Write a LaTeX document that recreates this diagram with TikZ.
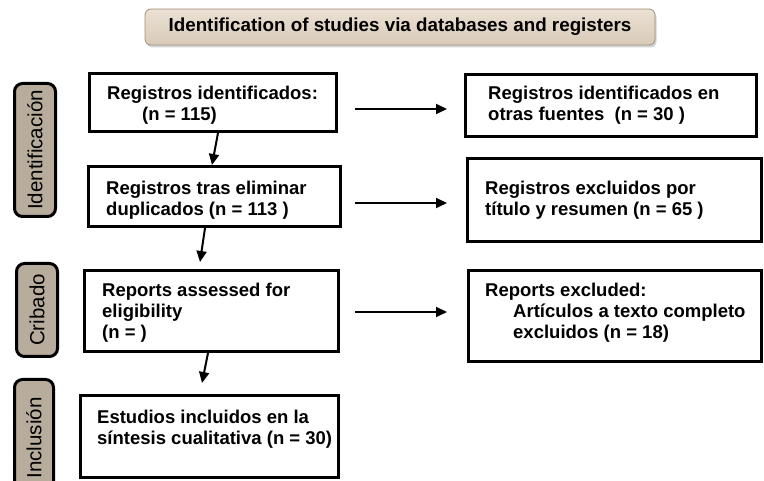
\documentclass[tikz,border=0pt]{standalone}
\usepackage{fontspec}
\setmainfont{Liberation Sans}
\usetikzlibrary{arrows.meta,shadows,calc}
\definecolor{barfill}{HTML}{B8AC9C}
\definecolor{titletop}{HTML}{EBE0D3}
\definecolor{titlebot}{HTML}{D9CAB8}
\definecolor{titleedge}{HTML}{A09080}
\newcommand{\mlines}[1]{\begin{tabular}[t]{@{}l@{}}#1\end{tabular}}
\begin{document}
\begin{tikzpicture}[x=1pt,y=-1pt,
  box/.style={draw=black, line width=3.3pt, fill=white, inner sep=0pt},
  bar/.style={draw=black, line width=3pt, rounded corners=8pt, fill=barfill, inner sep=0pt, rotate=90, font=\fontsize{20.5pt}{24pt}\selectfont},
  txt/.style={anchor=base west, inner sep=0pt, font=\fontsize{18.5pt}{21pt}\selectfont\bfseries},
  arr/.style={line width=2pt, -{Triangle[length=11pt,width=10pt]}}
]
\useasboundingbox (0,0) rectangle (764,481);
\fill[white] (0,0) rectangle (764,481);

% title
\node[draw=titleedge, line width=0.8pt, rounded corners=6pt, top color=titletop, bottom color=titlebot,
      drop shadow={opacity=0.35,shadow xshift=1.5pt,shadow yshift=-2.5pt},
      minimum width=510pt, minimum height=36pt, inner sep=0pt,
      font=\fontsize{18.8pt}{22pt}\selectfont\bfseries] (title) at (400,27)
      {Identification of studies via databases and registers};

% side bars
\node[bar, minimum width=133pt, minimum height=41pt] (sId) at (35,150) {Identificación};
\node[bar, minimum width=93pt, minimum height=41pt] (sCr) at (37,310) {Cribado};
\node[bar, minimum width=117pt, minimum height=39pt] (sIn) at (34,438) {Inclusión};

% left boxes
\node[box, minimum width=246.7pt, minimum height=57.7pt] (b1) at (213,102.5) {};
\node[box, minimum width=251.7pt, minimum height=59.7pt] (b2) at (214.5,196.5) {};
\node[box, minimum width=253.7pt, minimum height=80.7pt] (b3) at (211.5,311) {};
\node[box, minimum width=257.7pt, minimum height=81.7pt] (b4) at (209.5,436.5) {};

% right boxes
\node[box, minimum width=290.7pt, minimum height=61.7pt] (r1) at (611,105.5) {};
\node[box, minimum width=293.7pt, minimum height=82.7pt] (r2) at (614.5,200) {};
\node[box, minimum width=292.7pt, minimum height=90.7pt] (r3) at (615,316) {};

% texts
\node[txt] (t1) at (107,100) {\mlines{Registros identificados:\\\hspace{35pt}(n = 115)}};
\node[txt] (t2) at (106,195) {\mlines{Registros tras eliminar\\duplicados (n = 113 )}};
\node[txt] (t3) at (102,296.5) {\mlines{Reports assessed for\\eligibility\\(n = )}};
\node[txt] (t4) at (97,423.5) {\mlines{Estudios incluidos en la\\síntesis cualitativa (n = 30)}};
\node[txt] (u1) at (488,100) {\mlines{Registros identificados en\\otras fuentes\ \ (n = 30 )}};
\node[txt] (u2) at (485,195) {\mlines{Registros excluidos por\\título y resumen (n = 65 )}};
\node[txt] (u3) at (485,296.5) {\mlines{Reports excluded:\\\hspace{28pt}Artículos a texto completo\\\hspace{28pt}excluidos (n = 18)}};

% horizontal arrows
\coordinate (h1) at (0,109);
\coordinate (h2) at (0,203);
\coordinate (h3) at (0,312);
\draw[arr, shorten <=17pt, shorten >=17pt] (b1.east |- h1) -- (r1.west |- h1);
\draw[arr, shorten <=13pt, shorten >=19pt] (b2.east |- h2) -- (r2.west |- h2);
\draw[arr, shorten <=15pt, shorten >=20pt] (b3.east |- h3) -- (r3.west |- h3);

% vertical arrows
\draw[arr] ([xshift=130pt]b1.south west) -- ([xshift=125pt]b2.north west);
\draw[arr] ([xshift=118pt]b2.south west) -- ([xshift=117pt,yshift=7pt]b3.north west);
\draw[arr] ([xshift=125pt]b3.south west) -- ([xshift=123pt,yshift=11pt]b4.north west);
\end{tikzpicture}
\end{document}
